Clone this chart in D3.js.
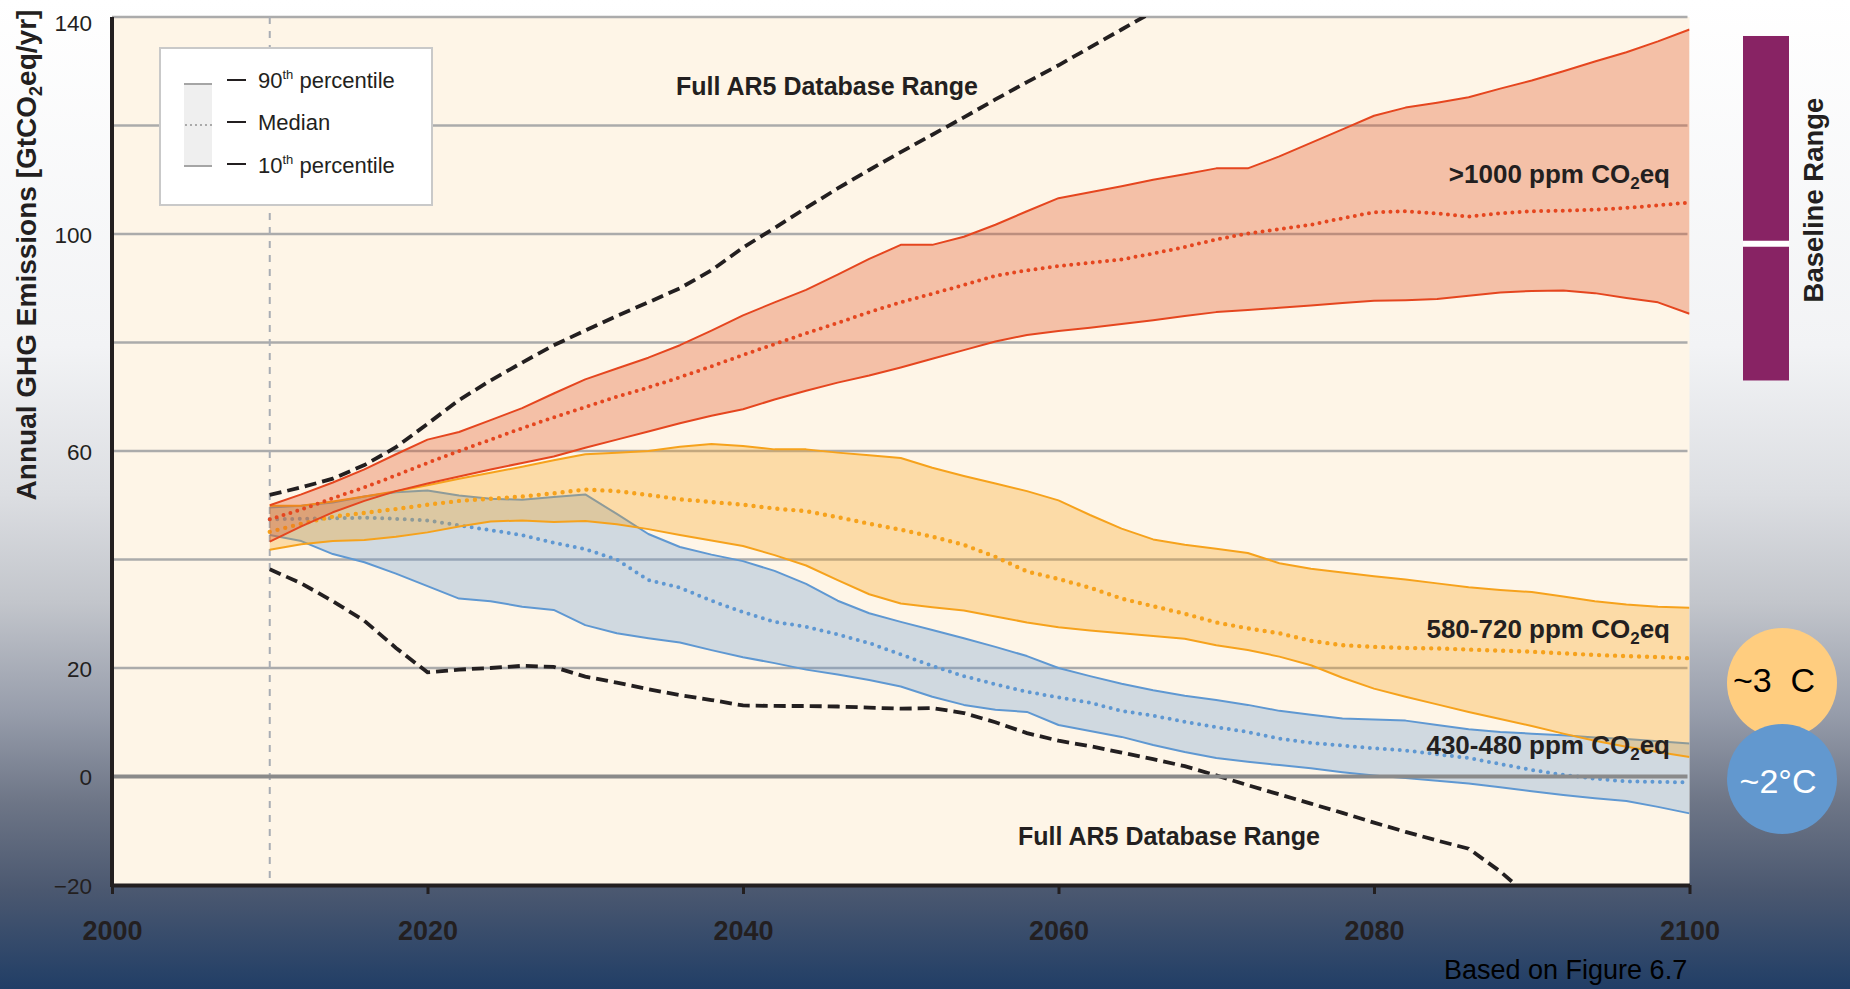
<!DOCTYPE html>
<html><head><meta charset="utf-8">
<script src="https://cdn.jsdelivr.net/npm/d3@7"></script>
<style>
html,body{margin:0;padding:0;overflow:hidden;background:#fff;}
svg{display:block;}
text{font-family:"Liberation Sans",Arial,sans-serif;}
</style></head><body>
<svg id="chart" width="1850" height="989"></svg>
<script>
// ---------------- DATA ----------------
const years = [2010,2012,2014,2016,2018,2020,2022,2024,2026,2028,2030,2032,2034,2036,2038,2040,2042,2044,2046,2048,
  2050,2052,2054,2056,2058,2060,2062,2064,2066,2068,2070,2072,2074,2076,2078,2080,2082,2084,2086,2088,
  2090,2092,2094,2096,2098,2100];

// >1000 ppm CO2eq
const high90 = [50.0,52.0,54.2,56.6,59.4,62.1,63.5,65.7,67.9,70.6,73.2,75.2,77.2,79.5,82.2,85.0,87.4,89.7,92.5,95.4,
  98.0,98.0,99.5,101.7,104.2,106.6,107.7,108.8,110.0,111.0,112.1,112.1,114.3,116.8,119.3,121.8,123.3,124.2,125.2,126.8,
  128.3,130.0,131.8,133.5,135.5,137.7];
const high50 = [47.4,49.2,51.3,53.3,55.5,57.8,60.0,62.1,64.2,66.2,68.1,70.0,71.7,73.6,75.6,77.7,79.7,81.7,83.6,85.6,
  87.4,89.0,90.6,92.3,93.3,94.1,94.7,95.3,96.4,97.6,99.0,100.1,100.9,101.7,102.9,104.0,104.2,103.8,103.2,103.8,
  104.2,104.3,104.5,104.8,105.3,105.8];
const high10 = [43.3,46.1,48.7,50.8,52.6,54.0,55.3,56.6,57.8,59.0,60.6,62.1,63.6,65.1,66.5,67.7,69.5,71.1,72.6,73.9,
  75.4,77.0,78.6,80.2,81.4,82.1,82.7,83.4,84.1,84.9,85.6,86.0,86.4,86.8,87.3,87.7,87.8,88.0,88.6,89.2,
  89.5,89.6,89.1,88.2,87.4,85.3];

// 580-720 ppm CO2eq
const mid90 = [49.9,49.9,50.7,51.6,52.6,53.7,54.9,56.0,57.1,58.3,59.4,59.7,60.0,60.8,61.3,60.9,60.3,60.3,59.7,59.2,
  58.7,56.9,55.4,54.0,52.6,50.9,48.2,45.7,43.7,42.7,42.0,41.2,39.3,38.3,37.6,36.9,36.3,35.6,34.9,34.4,
  34.0,33.2,32.3,31.7,31.3,31.1];
const mid50 = [45.1,46.6,47.9,48.6,49.3,50.1,50.8,51.2,51.6,52.2,52.9,52.6,51.9,51.1,50.6,50.1,49.4,48.9,47.8,46.6,
  45.5,44.2,42.7,40.5,37.8,36.4,34.8,32.8,31.4,30.0,28.4,27.3,26.4,25.0,24.2,23.9,23.7,23.6,23.4,23.2,
  23.0,22.7,22.4,22.2,22.0,21.8];
const mid10 = [41.8,42.8,43.4,43.6,44.2,45.0,46.1,47.0,47.2,46.9,47.1,46.5,45.6,44.5,43.5,42.5,40.8,38.9,36.2,33.6,
  31.9,31.2,30.6,29.5,28.4,27.5,26.9,26.4,25.9,25.4,24.2,23.3,22.1,20.5,18.2,16.2,14.7,13.3,11.9,10.6,
  9.3,7.9,6.6,5.5,4.5,3.6];

// 430-480 ppm CO2eq
const low90 = [49.6,49.9,50.5,51.6,52.4,52.7,51.8,51.2,51.0,51.5,52.0,48.4,44.7,42.3,40.9,39.7,37.9,35.5,32.4,30.1,
  28.5,27.0,25.5,23.9,22.2,20.0,18.5,17.1,15.9,14.9,14.1,13.2,12.1,11.4,10.7,10.5,10.3,9.5,8.7,8.2,
  7.9,7.6,7.2,6.9,6.5,6.1];
const low50 = [47.4,47.5,47.6,47.7,47.5,47.2,46.3,45.4,44.5,43.1,41.9,40.0,36.2,34.8,32.4,30.3,28.5,27.6,26.2,24.6,
  22.5,20.4,18.5,17.0,15.6,14.6,13.6,12.1,11.2,10.1,9.1,8.2,7.0,6.2,5.7,5.2,4.8,4.1,3.4,2.3,
  1.2,0.3,-0.4,-0.9,-1.0,-1.1];
const low10 = [44.5,43.4,41.0,39.5,37.4,35.1,32.8,32.3,31.3,30.7,27.9,26.4,25.5,24.7,23.3,22.0,20.9,19.7,18.8,17.8,
  16.6,14.7,13.2,12.3,11.9,9.5,8.4,7.3,5.8,4.5,3.4,2.7,2.1,1.5,0.8,0.2,-0.3,-0.8,-1.3,-2.0,
  -2.7,-3.4,-4.0,-4.5,-5.6,-6.8];

// Full AR5 database range (dashed envelopes)
const dbHigh = [51.9,53.3,54.9,57.4,60.7,65.0,69.4,73.0,76.3,79.5,82.2,84.9,87.4,90.0,93.3,97.5,101.1,104.8,108.4,111.8,
  115.1,118.3,121.5,124.8,128.0,131.1,134.4,137.7,141.0,null,null,null,null,null,null,null,null,null,null,null,
  null,null,null,null,null,null];
const dbLow = [38.2,35.6,32.3,28.7,23.7,19.2,19.7,20.0,20.4,20.2,18.4,17.3,16.1,15.0,14.1,13.1,13.0,13.0,12.9,12.7,
  12.5,12.6,11.7,10.0,8.0,6.6,5.6,4.4,3.2,1.9,0.2,-1.6,-3.3,-5.0,-6.7,-8.5,-10.2,-11.8,-13.3,-17.5,
  -22.5,null,null,null,null,null];

const baselineRange = [73.0, 98.2, 136.5];   // low, split, high

const yTickLabels = [140,100,60,20,0,-20];
const gridValues = [140,120,100,80,60,40,20];
const xTickLabels = [2000,2020,2040,2060,2080,2100];
const bandLabels = [">1000 ppm CO", "580-720 ppm CO", "430-480 ppm CO"];

// ---------------- CHART ----------------
const svg = d3.select("#chart");
const W = 1850, H = 989;
const L = 112, R = 1689.5, T = 17, B = 885;
const x = d3.scaleLinear().domain([2000, 2100]).range([L, R]);
const y = d3.scaleLinear().domain([-20, 140]).range([B, T]);
const ink = "#231f20";

const defs = svg.append("defs");
const grad = defs.append("linearGradient").attr("id", "bg").attr("x1", 0).attr("y1", 0).attr("x2", 0).attr("y2", 1);
[[0,"#ffffff"],[0.35,"#f2f3f5"],[0.5,"#dcdee2"],[0.61,"#c2c5cb"],[0.72,"#979dab"],[0.81,"#6e7687"],[0.9,"#4b5870"],[1,"#213e66"]]
  .forEach(([o,c]) => grad.append("stop").attr("offset", o).attr("stop-color", c));
defs.append("clipPath").attr("id", "plotClip").append("rect")
  .attr("x", L).attr("y", T).attr("width", R - L).attr("height", B - T);

svg.append("rect").attr("width", W).attr("height", H).attr("fill", "url(#bg)");
svg.append("rect").attr("x", L).attr("y", T).attr("width", R - L).attr("height", B - T).attr("fill", "#fef5e7");

// gridlines
svg.append("g").selectAll("line").data(gridValues).join("line")
  .attr("x1", L).attr("x2", R - 2).attr("y1", d => y(d)).attr("y2", d => y(d))
  .attr("stroke", "#ababab").attr("stroke-width", 2.5);

// 2010 marker
svg.append("line").attr("x1", x(2010)).attr("x2", x(2010)).attr("y1", T).attr("y2", B)
  .attr("stroke", "#a9adb4").attr("stroke-width", 2).attr("stroke-dasharray", "7,7");

const plot = svg.append("g").attr("clip-path", "url(#plotClip)");

const bands = [
  {hi: low90, mid: low50, lo: low10, fill: "rgb(104,152,210)", fo: 0.3, line: "#5f98d2", dot: "0,7.5", dw: 4},
  {hi: mid90, mid: mid50, lo: mid10, fill: "rgb(247,162,27)", fo: 0.31, line: "#f6a21c", dot: "0,8", dw: 4.4},
  {hi: high90, mid: high50, lo: high10, fill: "rgb(224,84,36)", fo: 0.33, line: "#e5461f", dot: "0,7.2", dw: 4}
];

bands.forEach(b => {
  const area = d3.area().x((d, i) => x(years[i])).y0((d, i) => y(b.lo[i])).y1(d => y(d));
  plot.append("path").datum(b.hi).attr("d", area).attr("fill", b.fill).attr("fill-opacity", b.fo);
  const line = d3.line().x((d, i) => x(years[i])).y(d => y(d));
  [b.hi, b.lo].forEach(s => plot.append("path").datum(s).attr("d", line)
    .attr("fill", "none").attr("stroke", b.line).attr("stroke-width", 2).attr("stroke-linejoin", "round"));
  plot.append("path").datum(b.mid).attr("d", line).attr("fill", "none").attr("stroke", b.line)
    .attr("stroke-width", b.dw).attr("stroke-linecap", "round").attr("stroke-dasharray", b.dot);
});

// zero line
svg.append("line").attr("x1", L).attr("x2", R - 2).attr("y1", y(0)).attr("y2", y(0))
  .attr("stroke", "#8a8a8a").attr("stroke-width", 4);

// dashed database range
const dLine = d3.line().defined(d => d != null).x((d, i) => x(years[i])).y(d => y(d));
[dbHigh, dbLow].forEach(s => plot.append("path").datum(s).attr("d", dLine)
  .attr("fill", "none").attr("stroke", ink).attr("stroke-width", 3.8).attr("stroke-dasharray", "12,6"));

// axes
const xAxis = d3.axisBottom(x).tickValues(xTickLabels).tickFormat(d3.format("d"))
  .tickSize(9).tickSizeOuter(0).tickPadding(27);
const gx = svg.append("g").attr("transform", `translate(0,${B})`).call(xAxis);
gx.select(".domain").attr("stroke", ink).attr("stroke-width", 4);
gx.selectAll(".tick line").attr("stroke", ink).attr("stroke-width", 3);
gx.selectAll(".tick text").attr("fill", ink).attr("font-size", 27).attr("font-weight", "bold")
  .attr("font-family", "Liberation Sans, Arial, sans-serif");

const yAxis = d3.axisLeft(y).tickValues(yTickLabels).tickSize(0).tickPadding(20);
const gy = svg.append("g").attr("transform", `translate(${L},0)`).call(yAxis);
gy.select(".domain").remove();
gy.append("line").attr("x1", 0).attr("x2", 0).attr("y1", T).attr("y2", B + 2).attr("stroke", ink).attr("stroke-width", 4);
gy.selectAll(".tick text").attr("fill", ink).attr("font-size", 22.5)
  .attr("font-family", "Liberation Sans, Arial, sans-serif")
  .attr("dy", d => d === 140 ? "0.62em" : "0.36em");

// y-axis title
const yt = svg.append("text").attr("transform", `translate(36,${(T + 505) / 2 - 6}) rotate(-90)`)
  .attr("text-anchor", "middle").attr("font-size", 28).attr("font-weight", "bold").attr("fill", ink);
yt.append("tspan").text("Annual GHG Emissions [GtCO");
yt.append("tspan").attr("font-size", 18).attr("dy", 6).text("2");
yt.append("tspan").attr("dy", -6).text("eq/yr]");

// Band labels
function co2Label(txt, xx, yy) {
  const t = svg.append("text").attr("x", xx).attr("y", yy).attr("text-anchor", "end")
    .attr("font-size", 26).attr("font-weight", "bold").attr("fill", ink);
  t.append("tspan").text(txt);
  t.append("tspan").attr("font-size", 17).attr("dy", 6).text("2");
  t.append("tspan").attr("dy", -6).text("eq");
}
co2Label(bandLabels[0], 1670, 183);
co2Label(bandLabels[1], 1670, 638);
co2Label(bandLabels[2], 1670, 754);

svg.append("text").attr("x", 676).attr("y", 95).attr("font-size", 25).attr("font-weight", "bold")
  .attr("fill", ink).text("Full AR5 Database Range");
svg.append("text").attr("x", 1018).attr("y", 845).attr("font-size", 25).attr("font-weight", "bold")
  .attr("fill", ink).text("Full AR5 Database Range");

// Legend
const lg = svg.append("g");
lg.append("rect").attr("x", 160).attr("y", 48).attr("width", 272).attr("height", 157)
  .attr("fill", "#ffffff").attr("stroke", "#c9c9c9").attr("stroke-width", 2);
lg.append("rect").attr("x", 184).attr("y", 84).attr("width", 28).attr("height", 82).attr("fill", "#efefef");
[84, 166].forEach(v => lg.append("line").attr("x1", 184).attr("x2", 212).attr("y1", v).attr("y2", v)
  .attr("stroke", "#a5a5a5").attr("stroke-width", 2));
lg.append("line").attr("x1", 186).attr("x2", 212).attr("y1", 125).attr("y2", 125)
  .attr("stroke", "#9a9a9a").attr("stroke-width", 2.2).attr("stroke-linecap", "round").attr("stroke-dasharray", "0,5");
[80, 122, 164].forEach(v => lg.append("line").attr("x1", 227).attr("x2", 246).attr("y1", v).attr("y2", v)
  .attr("stroke", ink).attr("stroke-width", 2));
function legText(yy, a, sup, b) {
  const t = lg.append("text").attr("x", 258).attr("y", yy).attr("font-size", 22).attr("fill", ink);
  t.append("tspan").text(a);
  if (sup) {
    t.append("tspan").attr("font-size", 13).attr("dy", -9).text(sup);
    t.append("tspan").attr("dy", 9).text(b);
  }
}
legText(88, "90", "th", " percentile");
legText(130, "Median");
legText(173, "10", "th", " percentile");

// Baseline range bar
const bw = 46, bx = 1743;
svg.append("rect").attr("x", bx).attr("width", bw).attr("y", y(baselineRange[2]))
  .attr("height", y(baselineRange[0]) - y(baselineRange[2])).attr("fill", "#882364");
svg.append("line").attr("x1", bx).attr("x2", bx + bw).attr("y1", y(baselineRange[1])).attr("y2", y(baselineRange[1]))
  .attr("stroke", "#ffffff").attr("stroke-width", 6);
svg.append("text").attr("transform", "translate(1823,200) rotate(-90)").attr("text-anchor", "middle")
  .attr("font-size", 27.5).attr("font-weight", "bold").attr("fill", ink).text("Baseline Range");

// Temperature circles
svg.append("circle").attr("cx", 1782).attr("cy", 683).attr("r", 55).attr("fill", "#ffcd7f");
svg.append("circle").attr("cx", 1782).attr("cy", 779).attr("r", 55).attr("fill", "#6298cf");
svg.append("text").attr("x", 1774).attr("y", 692).attr("text-anchor", "middle").attr("font-size", 34)
  .attr("font-family", "Noto Sans, Open Sans, sans-serif").attr("fill", "#000").style("white-space", "pre").text("~3  C");
svg.append("text").attr("x", 1778).attr("y", 793).attr("text-anchor", "middle").attr("font-size", 34)
  .attr("font-family", "Noto Sans, Open Sans, sans-serif").attr("fill", "#ffffff").text("~2°C");

// Source note
svg.append("text").attr("x", 1444).attr("y", 979).attr("font-size", 27).attr("fill", "#000")
  .text("Based on Figure 6.7");
</script>
</body></html>
